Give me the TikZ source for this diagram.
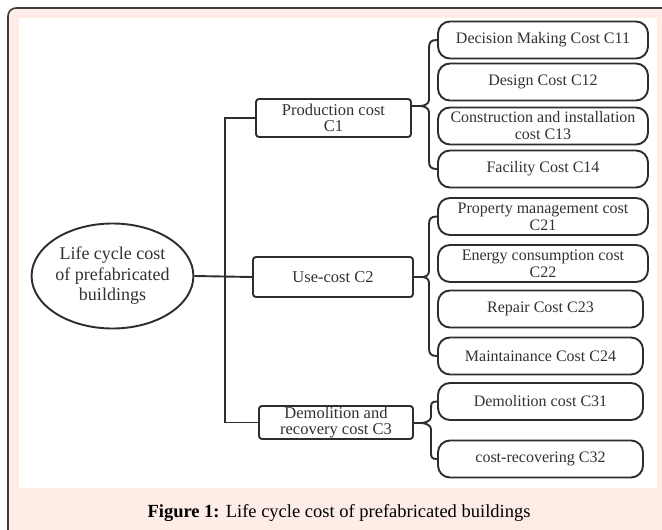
\documentclass[tikz,border=0pt]{standalone}
\usepackage{fontspec}
\setmainfont{Liberation Serif}
\usetikzlibrary{shapes.geometric,calc}
\definecolor{pinkbg}{RGB}{253,237,230}
\definecolor{framecol}{RGB}{60,60,60}
\definecolor{inkcol}{RGB}{45,45,45}
\definecolor{txtcol}{RGB}{50,50,50}
\newcommand{\mybrace}[4]{%
  \draw[conn] (#1.west) .. controls ($(#1.west)+(-6,0)$) and ($(#1.west -| #4)+(0,2)$) .. ($(#1.west -| #4)+(0,8)$)
    -- ($(#3 -| #4)+(0,-6)$) .. controls ($(#3 -| #4)+(0,-2)$) and ($(#3)+(4,0)$) .. (#3)
    .. controls ($(#3)+(4,0)$) and ($(#3 -| #4)+(0,2)$) .. ($(#3 -| #4)+(0,6)$)
    -- ($(#2.west -| #4)+(0,-8)$) .. controls ($(#2.west -| #4)+(0,-2)$) and ($(#2.west)+(-6,0)$) .. (#2.west);}
\tikzset{
  conn/.style={draw=inkcol, line width=1.9pt},
  midbox/.style={draw=inkcol, line width=1.9pt, rounded corners=3pt, inner sep=0pt,
    align=center, text=txtcol, font=\fontsize{16.5}{16.5}\selectfont},
  leaf/.style={draw=inkcol, line width=1.9pt, rounded corners=12pt, inner sep=0pt,
    align=center, text=txtcol, font=\fontsize{16}{17}\selectfont, minimum height=37pt},
  rootell/.style={draw=inkcol, line width=1.9pt, ellipse, inner sep=0pt,
    minimum width=153pt, minimum height=105pt, align=center, text=txtcol,
    font=\fontsize{18}{20.5}\selectfont}
}
\begin{document}
\begin{tikzpicture}[x=1pt,y=-1pt]
\useasboundingbox (0,0) rectangle (662,530);
\clip (0,0) rectangle (662,530);
\draw[fill=pinkbg, draw=framecol, line width=1.6pt, rounded corners=8pt] (8,8) rectangle (720,600);
\fill[white] (19,18) rectangle (657,488);

% root
\node[rootell] (R) at (112.5,276) {Life cycle cost\\of prefabricated\\buildings};

% middle boxes
\node[midbox, minimum width=155pt, minimum height=38pt] (P) at (333.5,118) {Production cost\\C1};
\node[midbox, minimum width=160pt, minimum height=40pt] (U) at (333,277) {Use-cost C2};
\node[midbox, minimum width=154pt, minimum height=33pt] (D) at (336,422.5) {Demolition and\\recovery cost C3};

% leaves
\node[leaf, minimum width=210pt] (C11) at (543,40) {Decision Making Cost C11};
\node[leaf, minimum width=210pt] (C12) at (543,82) {Design Cost C12};
\node[leaf, minimum width=210pt] (C13) at (543,126) {Construction and installation\\cost C13};
\node[leaf, minimum width=210pt] (C14) at (543,169) {Facility Cost C14};
\node[leaf, minimum width=210pt] (C21) at (543,216.5) {Property management cost\\C21};
\node[leaf, minimum width=210pt] (C22) at (543,263.5) {Energy consumption cost\\C22};
\node[leaf, minimum width=205pt] (C23) at (540.5,309) {Repair Cost C23};
\node[leaf, minimum width=205pt] (C24) at (540.5,356) {Maintainance Cost C24};
\node[leaf, minimum width=205pt] (C31) at (540.5,401.5) {Demolition cost C31};
\node[leaf, minimum width=205pt] (C32) at (540.5,459) {cost-recovering C32};

% caption
\node[text=black, font=\fontsize{18.5}{20}\selectfont] (cap) at (339,513) {\textbf{Figure 1:} Life cycle cost of prefabricated buildings};

% trunk
\coordinate (tr) at (225,277);
\draw[conn] (R.east) -- (U.west);
\draw[conn] (P.west) -- (P.west -| tr) -- (D.west -| tr) -- (D.west);

% braces
\coordinate (k1) at (420,106);
\coordinate (s1) at (429,0);
\draw[conn] (P.east |- k1) -- (k1);
\mybrace{C11}{C14}{k1}{s1}

\coordinate (k2) at (422,277);
\coordinate (s2) at (429,0);
\draw[conn] (U.east) -- (k2);
\mybrace{C21}{C24}{k2}{s2}

\coordinate (k3) at (421,423);
\coordinate (s3) at (431,0);
\draw[conn] (D.east |- k3) -- (k3);
\mybrace{C31}{C32}{k3}{s3}
\end{tikzpicture}
\end{document}
